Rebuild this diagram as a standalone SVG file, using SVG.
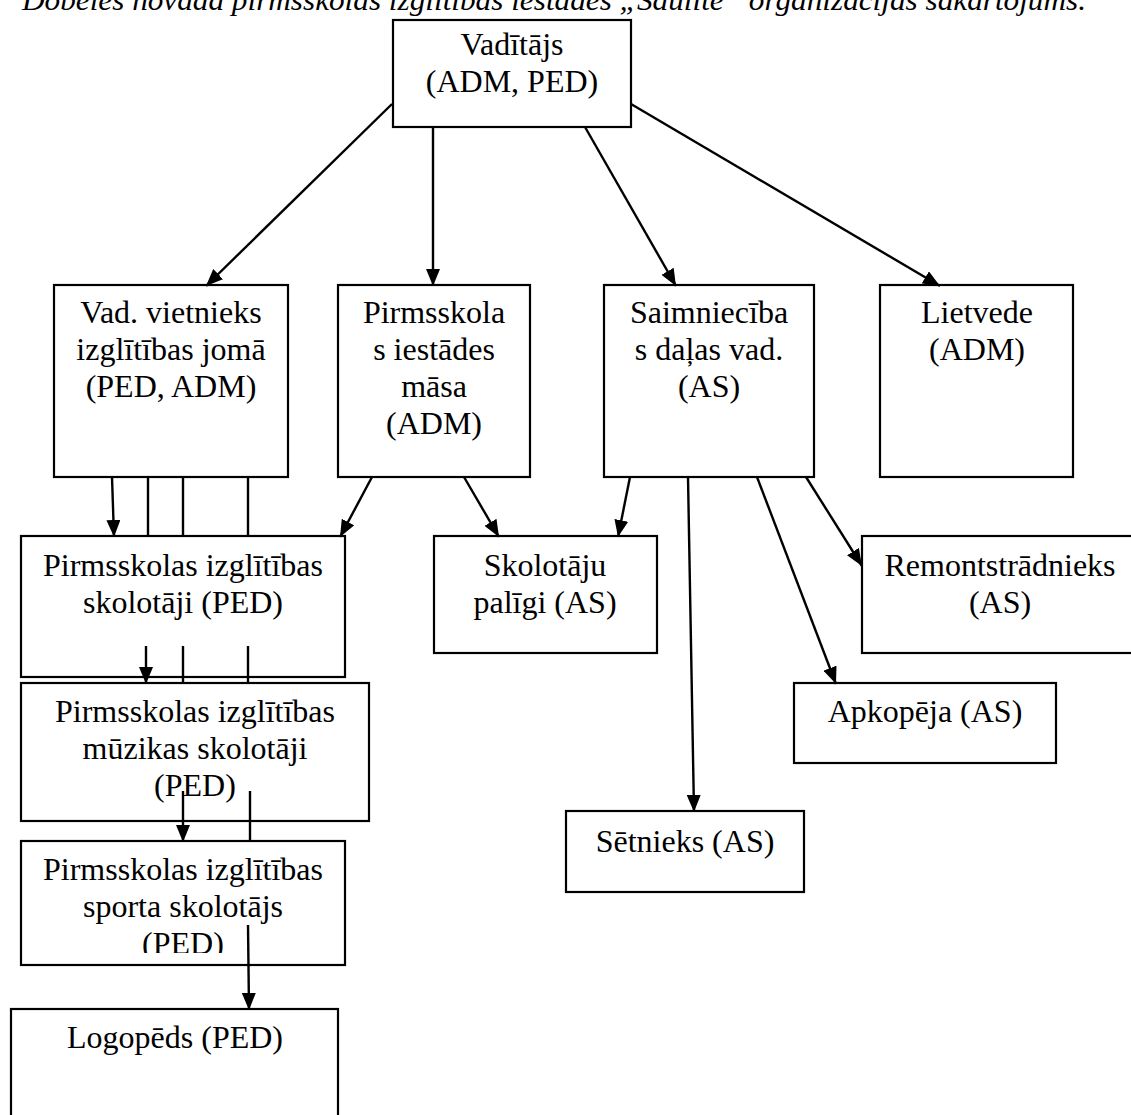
<svg xmlns="http://www.w3.org/2000/svg" width="1131" height="1115" viewBox="0 0 1131 1115">
<style>
.box{fill:#fff;stroke:#000;stroke-width:2.2}
.t{font-family:'Liberation Serif','Times New Roman',Times,'DejaVu Serif',serif;font-size:32px;fill:#000;text-anchor:middle}
.title{font-family:'Liberation Serif','Times New Roman',Times,'DejaVu Serif',serif;font-size:30px;font-style:italic;fill:#000}
.c line{stroke:#000;stroke-width:2.4}
.a{marker-end:url(#arr)}
</style>
<defs>
<marker id="arr" markerUnits="userSpaceOnUse" markerWidth="18" markerHeight="14" refX="17" refY="7" orient="auto">
<path d="M0,0 L17,7 L0,14 z" fill="#000"/>
</marker>
<clipPath id="clipSport"><rect x="21" y="841" width="324" height="112"/></clipPath>
</defs>
<rect width="1131" height="1115" fill="#fff"/>
<text class="title" x="22" y="10" textLength="1064" lengthAdjust="spacingAndGlyphs">Dobeles novada pirmsskolas izglītības iestādes „Saulīte” organizācijas sakārtojums.</text>

<g id="vaditajs"><rect class="box" x="393" y="20" width="238" height="107"/>
<text class="t" x="512" y="55">Vadītājs</text><text class="t" x="512" y="92">(ADM, PED)</text></g>

<g id="vietnieks"><rect class="box" x="54" y="285" width="234" height="192"/>
<text class="t" x="171" y="323">Vad. vietnieks</text><text class="t" x="171" y="360">izglītības jomā</text><text class="t" x="171" y="397">(PED, ADM)</text></g>

<g id="masa"><rect class="box" x="338" y="285" width="192" height="192"/>
<text class="t" x="434" y="323">Pirmsskola</text><text class="t" x="434" y="360">s iestādes</text><text class="t" x="434" y="397">māsa</text><text class="t" x="434" y="434">(ADM)</text></g>

<g id="saimnieciba"><rect class="box" x="604" y="285" width="210" height="192"/>
<text class="t" x="709" y="323">Saimniecība</text><text class="t" x="709" y="360">s daļas vad.</text><text class="t" x="709" y="397">(AS)</text></g>

<g id="lietvede"><rect class="box" x="880" y="285" width="193" height="192"/>
<text class="t" x="977" y="323">Lietvede</text><text class="t" x="977" y="360">(ADM)</text></g>

<g id="skolotaji"><rect class="box" x="21" y="536" width="324" height="141"/>
<text class="t" x="183" y="576">Pirmsskolas izglītības</text><text class="t" x="183" y="613">skolotāji (PED)</text></g>

<g id="paligi"><rect class="box" x="434" y="536" width="223" height="117"/>
<text class="t" x="545" y="576">Skolotāju</text><text class="t" x="545" y="613">palīgi (AS)</text></g>

<g id="remont"><rect class="box" x="862" y="536" width="280" height="117"/>
<text class="t" x="1000" y="576">Remontstrādnieks</text><text class="t" x="1000" y="613">(AS)</text></g>

<g id="muzika"><rect class="box" x="21" y="683" width="348" height="138"/>
<text class="t" x="195" y="722">Pirmsskolas izglītības</text><text class="t" x="195" y="759">mūzikas skolotāji</text><text class="t" x="195" y="796">(PED)</text></g>

<g id="apkopeja"><rect class="box" x="794" y="683" width="262" height="80"/>
<text class="t" x="925" y="722">Apkopēja (AS)</text></g>

<g id="sports"><rect class="box" x="21" y="841" width="324" height="124"/>
<g clip-path="url(#clipSport)"><text class="t" x="183" y="880">Pirmsskolas izglītības</text><text class="t" x="183" y="917">sporta skolotājs</text><text class="t" x="183" y="954">(PED)</text></g></g>

<g id="setnieks"><rect class="box" x="566" y="811" width="238" height="81"/>
<text class="t" x="685" y="852">Sētnieks (AS)</text></g>

<g id="logopeds"><rect class="box" x="11" y="1009" width="327" height="130"/>
<text class="t" x="175" y="1048">Logopēds (PED)</text></g>

<g id="connectors" class="c">
<line class="a" x1="392" y1="104" x2="206" y2="286"/>
<line class="a" x1="433" y1="127" x2="433" y2="286"/>
<line class="a" x1="585" y1="127" x2="676" y2="286"/>
<line class="a" x1="631" y1="104" x2="940" y2="286"/>
<line class="a" x1="112" y1="477" x2="114" y2="537"/>
<line x1="148" y1="477" x2="148" y2="536"/>
<line x1="183" y1="477" x2="183" y2="536"/>
<line x1="248" y1="477" x2="248" y2="536"/>
<line class="a" x1="372" y1="477" x2="340" y2="537"/>
<line class="a" x1="464" y1="477" x2="499" y2="537"/>
<line class="a" x1="630" y1="477" x2="618" y2="537"/>
<line class="a" x1="688" y1="477" x2="694" y2="812"/>
<line class="a" x1="757" y1="477" x2="836" y2="684"/>
<line class="a" x1="806" y1="477" x2="862" y2="566"/>
<line class="a" x1="146" y1="646" x2="146" y2="684"/>
<line x1="183" y1="646" x2="183" y2="683"/>
<line x1="248" y1="646" x2="248" y2="683"/>
<line class="a" x1="183" y1="791" x2="183" y2="842"/>
<line x1="250" y1="791" x2="250" y2="841"/>
<line class="a" x1="248" y1="925" x2="249" y2="1010"/>
</g>
</svg>
